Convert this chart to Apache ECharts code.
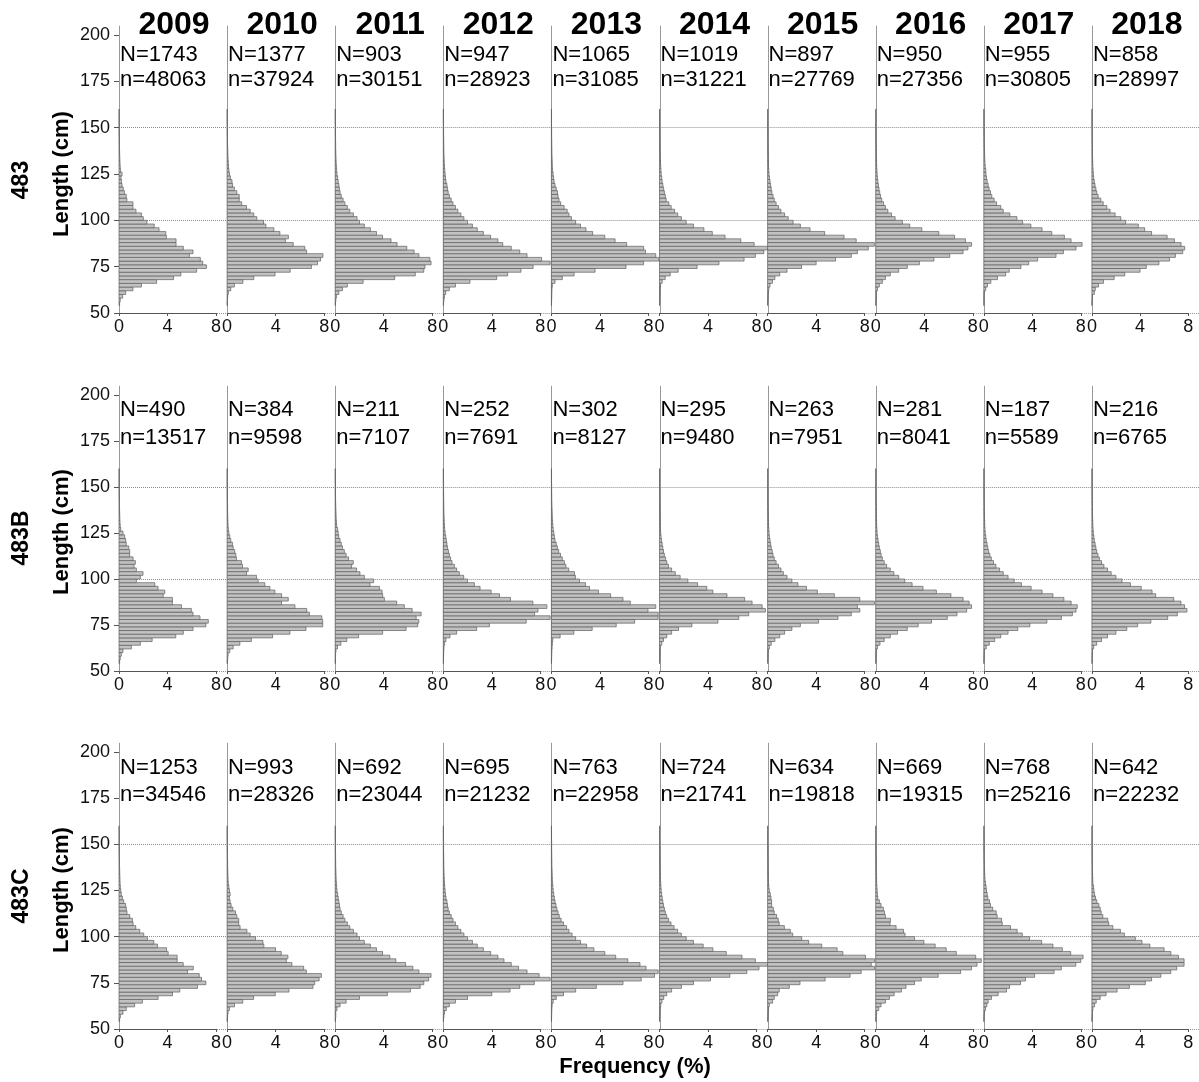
<!DOCTYPE html>
<html>
<head>
<meta charset="utf-8">
<title>ECharts</title>
<style>html, body { margin: 0; padding: 0; background: #fff; }</style>
</head>
<body>
<div id="main" style="width: 1199px; height: 1082px"></div>
<script src="https://cdn.jsdelivr.net/npm/echarts@6.0.0/dist/echarts.min.js"></script>
<script>
var years = ['2009', '2010', '2011', '2012', '2013', '2014', '2015', '2016', '2017', '2018'];
var areas = ['483', '483B', '483C'];
var yTicks = [50, 75, 100, 125, 150, 175, 200];
var xTicks = [0, 4, 8];
// lower edge of each 2 cm length class
var lengthBins = [54, 56, 58, 60, 62, 64, 66, 68, 70, 72, 74, 76, 78, 80, 82, 84, 86, 88, 90, 92,
    94, 96, 98, 100, 102, 104, 106, 108, 110, 112, 114, 116, 118, 120, 122, 124, 126, 128, 130, 132,
    134, 136, 138, 140, 142, 144, 146, 148, 150, 152, 154, 156, 158];

var N483 = [1743, 1377, 903, 947, 1065, 1019, 897, 950, 955, 858];
var n483 = [48063, 37924, 30151, 28923, 31085, 31221, 27769, 27356, 30805, 28997];
var N483B = [490, 384, 211, 252, 302, 295, 263, 281, 187, 216];
var n483B = [13517, 9598, 7107, 7691, 8127, 9480, 7951, 8041, 5589, 6765];
var N483C = [1253, 993, 692, 695, 763, 724, 634, 669, 768, 642];
var n483C = [34546, 28326, 23044, 21232, 22958, 21741, 19818, 19315, 25216, 22232];

// frequency (%) per length class, area 483
var f483_2009 = [0.05,0.1,0.3,0.55,1.15,1.85,3.1,4.5,5.1,6.4, 7.2,6.9,6.7,5.8,6.1,5.3,4.7,4.7,3.9,3.85, 3.3,2.9,2.3,2.0,1.85,1.4,1.15,1.15,0.65,0.6, 0.45,0.35,0.25,0.2,0.17,0.25,0.12,0.1,0.08,0.07, 0.06,0.05,0.04,0.04,0.03,0.03,0.02,0.02,0.02,0.01, 0.01,0.01,0.01];
var f483_2010 = [0.02,0.03,0.05,0.1,0.3,0.6,1.3,2.2,3.95,5.2, 6.95,7.45,7.7,7.9,6.55,6.4,5.45,4.8,5.05,4.35, 3.85,3.2,3.0,2.45,2.2,1.9,1.6,1.2,1.0,1.0, 0.8,0.6,0.45,0.4,0.27,0.2,0.15,0.12,0.1,0.08, 0.07,0.06,0.05,0.04,0.03,0.03,0.02,0.02,0.02,0.01, 0.01,0.01,0.01];
var f483_2011 = [0.02,0.05,0.1,0.3,0.6,1.0,2.3,4.9,6.6,7.3, 7.4,7.9,7.8,6.9,6.5,5.9,5.1,4.6,3.9,3.4, 2.9,2.4,2.0,1.8,1.5,1.2,1.0,0.8,0.65,0.5, 0.4,0.35,0.3,0.25,0.2,0.15,0.12,0.1,0.08,0.07, 0.06,0.05,0.04,0.04,0.03,0.03,0.02,0.02,0.02,0.01, 0.01,0.01,0.01];
var f483_2012 = [0.02,0.05,0.1,0.2,0.5,1.0,2.2,4.4,5.3,6.4, 7.4,8.8,8.1,6.9,6.3,5.6,4.9,4.5,3.9,3.3, 2.8,2.4,2.0,1.7,1.45,1.2,1.0,0.8,0.65,0.5, 0.4,0.35,0.3,0.22,0.18,0.15,0.12,0.1,0.08,0.07, 0.06,0.05,0.04,0.04,0.03,0.03,0.02,0.02,0.02,0.01, 0.01,0.01,0.01];
var f483_2013 = [0.01,0.02,0.03,0.04,0.05,0.08,0.3,0.9,1.87,3.6, 6.15,7.6,8.85,8.6,7.75,7.6,6.2,5.25,4.4,3.4, 2.85,2.4,2.0,1.65,1.45,1.3,1.05,0.77,0.63,0.55, 0.5,0.4,0.3,0.22,0.18,0.14,0.1,0.08,0.07,0.06, 0.05,0.04,0.04,0.03,0.03,0.02,0.02,0.02,0.01,0.01, 0.01,0.01,0.01];
var f483_2014 = [0.01,0.02,0.03,0.04,0.05,0.08,0.22,0.47,0.88,1.54, 3.1,4.9,6.97,7.9,8.6,8.9,7.8,6.7,5.4,4.35, 3.66,2.8,2.2,1.8,1.5,1.24,0.96,0.77,0.55,0.48, 0.4,0.34,0.28,0.22,0.18,0.14,0.12,0.1,0.08,0.07, 0.06,0.05,0.04,0.04,0.03,0.03,0.02,0.02,0.02,0.01, 0.01,0.01,0.01];
var f483_2015 = [0.01,0.02,0.04,0.06,0.1,0.2,0.4,0.6,1.0,1.6, 2.8,4.0,5.6,6.9,7.4,8.3,8.8,7.3,6.3,4.7, 3.5,2.7,2.1,1.7,1.4,1.1,0.9,0.7,0.55,0.45, 0.35,0.3,0.25,0.2,0.15,0.12,0.1,0.08,0.07,0.06, 0.05,0.04,0.04,0.03,0.03,0.02,0.02,0.02,0.01,0.01, 0.01,0.01,0.01];
var f483_2016 = [0.01,0.03,0.05,0.05,0.15,0.3,0.55,0.8,1.2,1.9, 2.6,3.6,4.8,6.1,7.2,7.6,7.9,7.4,6.5,5.2, 3.8,2.8,2.2,1.6,1.3,1.0,0.8,0.65,0.5,0.4, 0.33,0.27,0.22,0.18,0.14,0.12,0.1,0.08,0.07,0.06, 0.05,0.04,0.04,0.03,0.03,0.02,0.02,0.02,0.01,0.01, 0.01,0.01,0.01];
var f483_2017 = [0.01,0.01,0.02,0.03,0.16,0.3,0.58,1.13,1.8,2.1, 3.06,3.7,4.43,5.95,6.56,7.6,8.1,7.19,6.64,5.6, 4.8,3.88,3.2,2.73,2.15,1.6,1.4,1.05,0.85,0.66, 0.55,0.44,0.36,0.28,0.22,0.18,0.16,0.12,0.1,0.08, 0.07,0.06,0.05,0.04,0.03,0.03,0.02,0.02,0.02,0.01, 0.01,0.01,0.01];
var f483_2018 = [0.01,0.02,0.05,0.2,0.28,0.55,0.96,1.85,2.73,4.0, 4.52,5.57,6.45,6.94,7.55,7.71,7.41,6.86,6.25,4.96, 4.38,3.86,2.8,2.4,1.93,1.51,1.24,0.94,0.74,0.52, 0.4,0.33,0.26,0.2,0.15,0.12,0.1,0.08,0.07,0.06, 0.05,0.04,0.04,0.03,0.03,0.02,0.02,0.02,0.01,0.01, 0.01,0.01,0.01];

// area 483B
var f483B_2009 = [0.05,0.1,0.19,0.33,1.02,1.76,2.73,4.68,5.3,6.1, 7.16,7.36,6.67,6.1,5.96,5.15,4.4,4.4,3.64,3.77, 3.22,2.95,1.43,1.76,1.98,1.43,1.24,1.35,1.16,0.88, 0.88,0.8,0.6,0.55,0.47,0.33,0.14,0.1,0.08,0.07, 0.06,0.05,0.04,0.04,0.03,0.03,0.02,0.02,0.02,0.01, 0.01,0.01,0.01];
var f483B_2010 = [0.02,0.05,0.08,0.22,0.5,1.05,2.0,3.75,5.18,6.5, 7.88,7.88,7.8,6.78,6.56,5.59,4.49,5.04,4.49,3.94, 3.53,3.11,2.56,2.42,1.6,1.74,1.27,1.18,0.77,0.72, 0.63,0.5,0.44,0.3,0.22,0.15,0.1,0.08,0.07,0.06, 0.05,0.04,0.04,0.03,0.03,0.02,0.02,0.02,0.01,0.01, 0.01,0.01,0.01];
var f483B_2011 = [0.01,0.02,0.03,0.06,0.19,0.47,0.96,1.93,3.91,5.84, 6.8,6.89,6.67,7.08,6.34,5.7,5.07,4.05,3.91,3.86, 3.64,2.87,3.17,2.4,2.04,1.76,1.35,1.49,1.1,0.9, 0.75,0.6,0.5,0.4,0.3,0.25,0.2,0.12,0.1,0.08, 0.07,0.06,0.05,0.04,0.03,0.03,0.02,0.02,0.02,0.01, 0.01,0.01,0.01];
var f483B_2012 = [0.01,0.02,0.03,0.04,0.06,0.11,0.22,0.55,1.1,2.75, 3.8,6.83,8.8,7.52,7.8,8.54,7.38,5.54,4.63,3.94, 3.03,2.56,2.0,1.68,1.32,1.1,0.91,0.72,0.6,0.5, 0.42,0.35,0.3,0.25,0.2,0.15,0.12,0.1,0.08,0.07, 0.06,0.05,0.04,0.04,0.03,0.03,0.02,0.02,0.02,0.01, 0.01,0.01,0.01];
var f483B_2013 = [0.01,0.02,0.03,0.04,0.06,0.08,0.11,0.72,1.85,3.36, 5.34,6.86,8.8,8.8,7.96,8.6,6.5,5.9,4.88,3.88, 3.14,2.81,2.31,1.98,1.9,1.43,1.2,1.07,0.9,0.75, 0.6,0.5,0.4,0.3,0.25,0.2,0.15,0.12,0.1,0.08, 0.07,0.06,0.05,0.04,0.03,0.03,0.02,0.02,0.02,0.01, 0.01,0.01,0.01];
var f483B_2014 = [0.01,0.02,0.03,0.04,0.05,0.19,0.33,0.6,1.0,1.57, 2.67,4.82,6.53,7.35,8.73,8.46,7.63,7.02,5.56,4.4, 3.9,3.14,2.34,1.7,1.3,1.0,0.74,0.6,0.5,0.4, 0.33,0.27,0.22,0.17,0.13,0.1,0.08,0.07,0.06,0.05, 0.05,0.04,0.04,0.03,0.03,0.02,0.02,0.02,0.01,0.01, 0.01,0.01,0.01];
var f483B_2015 = [0.01,0.02,0.03,0.05,0.15,0.3,0.6,1.0,1.4,2.0, 2.7,4.2,5.8,6.9,7.6,7.4,8.8,7.6,5.5,4.1, 3.2,2.5,2.0,1.6,1.3,1.1,0.9,0.7,0.55,0.45, 0.38,0.3,0.25,0.2,0.15,0.12,0.1,0.08,0.07,0.06, 0.05,0.04,0.04,0.03,0.03,0.02,0.02,0.02,0.01,0.01, 0.01,0.01,0.01];
var f483B_2016 = [0.01,0.02,0.03,0.05,0.15,0.35,0.7,1.2,1.8,2.6, 3.5,4.6,5.9,6.7,7.5,7.9,7.7,7.2,6.2,5.0, 3.9,3.0,2.4,1.9,1.5,1.2,0.9,0.7,0.55,0.45, 0.38,0.3,0.25,0.2,0.15,0.12,0.1,0.08,0.07,0.06, 0.05,0.04,0.04,0.03,0.03,0.02,0.02,0.02,0.01,0.01, 0.01,0.01,0.01];
var f483B_2017 = [0.01,0.02,0.03,0.05,0.2,0.45,0.9,1.4,2.0,2.8, 3.8,5.2,6.4,7.3,7.6,7.7,7.2,6.6,5.7,4.8, 3.9,3.1,2.5,2.0,1.6,1.3,1.0,0.8,0.62,0.5, 0.4,0.33,0.27,0.2,0.16,0.12,0.1,0.08,0.07,0.06, 0.05,0.04,0.04,0.03,0.03,0.02,0.02,0.02,0.01,0.01, 0.01,0.01,0.01];
var f483B_2018 = [0.01,0.02,0.03,0.05,0.15,0.4,0.8,1.3,2.0,2.9, 3.8,4.9,6.3,7.1,7.9,7.7,7.4,6.8,5.3,5.0, 4.1,3.2,2.5,2.0,1.6,1.3,1.0,0.8,0.62,0.5, 0.4,0.33,0.27,0.2,0.16,0.12,0.1,0.08,0.07,0.06, 0.05,0.04,0.04,0.03,0.03,0.02,0.02,0.02,0.01,0.01, 0.01,0.01,0.01];

// area 483C
var f483C_2009 = [0.05,0.11,0.33,0.6,1.29,1.93,3.22,4.41,5.01,6.47, 7.16,6.8,6.61,5.65,6.12,5.29,4.79,4.79,4.05,3.91, 3.17,2.87,2.34,2.04,1.71,1.38,1.16,1.1,0.88,0.66, 0.6,0.55,0.39,0.28,0.19,0.15,0.11,0.09,0.08,0.07, 0.06,0.05,0.04,0.04,0.03,0.03,0.02,0.02,0.02,0.01, 0.01,0.01,0.01];
var f483C_2010 = [0.02,0.04,0.08,0.19,0.61,1.29,2.18,3.97,5.1,7.08, 7.22,7.58,7.77,6.53,6.31,5.34,4.88,5.01,4.46,3.99, 3.03,2.95,2.34,1.9,1.63,1.07,0.96,0.96,0.8,0.69, 0.47,0.33,0.25,0.19,0.25,0.19,0.14,0.1,0.08,0.07, 0.06,0.05,0.04,0.04,0.03,0.03,0.02,0.02,0.02,0.01, 0.01,0.01,0.01];
var f483C_2011 = [0.02,0.05,0.05,0.15,0.4,0.9,2.0,4.3,6.2,7.0, 7.3,7.7,7.9,6.9,6.4,5.8,5.0,4.5,3.9,3.4, 2.9,2.4,2.0,1.8,1.5,1.2,1.0,0.8,0.65,0.5, 0.4,0.35,0.3,0.25,0.2,0.15,0.12,0.1,0.08,0.07, 0.06,0.05,0.04,0.04,0.03,0.03,0.02,0.02,0.02,0.01, 0.01,0.01,0.01];
var f483C_2012 = [0.02,0.05,0.1,0.25,0.5,1.0,2.0,4.0,5.5,6.3, 7.5,8.8,7.9,6.9,6.2,5.6,5.0,4.5,3.9,3.3, 2.8,2.4,2.0,1.7,1.45,1.2,1.0,0.8,0.65,0.5, 0.4,0.35,0.3,0.22,0.18,0.15,0.12,0.1,0.08,0.07, 0.06,0.05,0.04,0.04,0.03,0.03,0.02,0.02,0.02,0.01, 0.01,0.01,0.01];
var f483C_2013 = [0.01,0.02,0.03,0.04,0.06,0.15,0.4,1.0,2.0,3.7, 5.9,7.4,8.5,8.8,7.8,7.3,6.3,5.3,4.4,3.5, 2.9,2.4,2.0,1.7,1.45,1.25,1.0,0.8,0.65,0.55, 0.45,0.38,0.3,0.24,0.19,0.15,0.12,0.1,0.08,0.07, 0.06,0.05,0.04,0.04,0.03,0.03,0.02,0.02,0.02,0.01, 0.01,0.01,0.01];
var f483C_2014 = [0.01,0.02,0.03,0.05,0.1,0.2,0.35,0.6,1.0,1.8, 2.8,4.2,5.8,7.2,8.2,8.9,7.9,6.8,5.5,4.4, 3.6,2.8,2.2,1.8,1.5,1.2,0.95,0.75,0.6,0.48, 0.4,0.33,0.27,0.22,0.18,0.14,0.12,0.1,0.08,0.07, 0.06,0.05,0.04,0.04,0.03,0.03,0.02,0.02,0.02,0.01, 0.01,0.01,0.01];
var f483C_2015 = [0.02,0.04,0.06,0.08,0.14,0.41,0.55,0.83,0.96,1.79, 2.67,4.74,6.8,7.71,8.82,8.54,8.82,8.07,6.2,5.73, 4.46,3.39,2.81,2.07,1.87,1.38,0.96,0.88,0.74,0.55, 0.47,0.33,0.33,0.28,0.22,0.14,0.1,0.08,0.07,0.06, 0.05,0.04,0.04,0.03,0.03,0.02,0.02,0.02,0.01,0.01, 0.01,0.01,0.01];
var f483C_2016 = [0.02,0.04,0.08,0.25,0.44,0.8,1.13,1.52,2.12,2.5, 3.2,3.75,5.15,7.0,7.9,8.35,8.7,8.24,6.64,5.81, 4.9,3.97,3.2,2.42,2.29,1.68,1.18,1.21,0.8,0.72, 0.63,0.44,0.3,0.17,0.14,0.12,0.1,0.08,0.07,0.06, 0.05,0.04,0.04,0.03,0.03,0.02,0.02,0.02,0.01,0.01, 0.01,0.01,0.01];
var f483C_2017 = [0.01,0.02,0.05,0.14,0.25,0.36,0.63,1.18,1.87,2.12, 3.03,3.44,4.19,5.79,6.39,7.58,7.99,8.18,7.16,6.47, 5.7,4.77,3.77,3.17,2.75,2.2,1.52,1.46,1.1,1.02, 0.74,0.55,0.47,0.33,0.28,0.22,0.19,0.14,0.1,0.08, 0.07,0.06,0.05,0.04,0.03,0.03,0.02,0.02,0.02,0.01, 0.01,0.01,0.01];
var f483C_2018 = [0.01,0.02,0.04,0.08,0.22,0.36,0.69,1.18,2.09,3.11, 4.44,4.96,5.73,6.56,7.05,7.66,7.66,7.19,6.56,6.0, 4.82,4.16,3.61,2.7,2.37,1.74,1.4,1.32,0.91,0.77, 0.69,0.58,0.41,0.3,0.22,0.17,0.14,0.08,0.07,0.06, 0.05,0.04,0.04,0.03,0.03,0.02,0.02,0.02,0.01,0.01, 0.01,0.01,0.01];

var freq = [
    [f483_2009, f483_2010, f483_2011, f483_2012, f483_2013, f483_2014, f483_2015, f483_2016, f483_2017, f483_2018],
    [f483B_2009, f483B_2010, f483B_2011, f483B_2012, f483B_2013, f483B_2014, f483B_2015, f483B_2016, f483B_2017, f483B_2018],
    [f483C_2009, f483C_2010, f483C_2011, f483C_2012, f483C_2013, f483C_2014, f483C_2015, f483C_2016, f483C_2017, f483C_2018]
];
var bigN = [N483, N483B, N483C];
var smallN = [n483, n483B, n483C];

var font = '"Liberation Sans", Arial, sans-serif';
var yMin = 50, yMax = 205;
var gridTop = [25.7, 385.8, 742.8];
var gridHeight = [287.3, 285.2, 286.2];
var nTextY = [55, 410, 768];
var smallTextY = [80, 438, 795];
var colLeft = 119, colStep = 108.1, colWidth = 108;
var clear = 'rgba(0,0,0,0)';
// dotted guide lines only at 50, 100 and 150 cm
var guideColors = ['#8c8c8c', clear, '#8c8c8c', clear, '#8c8c8c', clear, clear, clear];

var myChart = echarts.init(document.getElementById('main'));

function renderBar(params, api) {
    var lo = api.value(1);
    var p0 = api.coord([0, lo + 2]);
    var p1 = api.coord([api.value(0), lo]);
    var bar = {
        type: 'rect',
        shape: { x: p0[0], y: p0[1], width: p1[0] - p0[0], height: p1[1] - p0[1] },
        style: { fill: '#c2c2c2', stroke: '#5e5e5e', lineWidth: 0.7 },
        z2: 1
    };
    if (params.dataIndex !== 0) {
        return bar;
    }
    // panel frame: light length axis, solid frequency axis from first to last tick
    var o = api.coord([xTicks[0], yMin]);
    var top = api.coord([xTicks[0], yMax]);
    var end = api.coord([xTicks[xTicks.length - 1], yMin]);
    var x = Math.round(o[0]) + 0.5;
    var y = Math.round(o[1]) + 0.5;
    return {
        type: 'group',
        children: [{
            type: 'line',
            shape: { x1: x, y1: top[1], x2: x, y2: y },
            style: { stroke: '#999999', lineWidth: 1 },
            z2: 0
        }, bar, {
            type: 'line',
            shape: { x1: o[0], y1: y, x2: end[0], y2: y },
            style: { stroke: '#555', lineWidth: 1 },
            z2: 2
        }]
    };
}

var grids = [], xAxes = [], yAxes = [], series = [], texts = [];

for (var r = 0; r < areas.length; r++) {
    for (var c = 0; c < years.length; c++) {
        var k = grids.length;
        var left = colLeft + c * colStep;
        grids.push({ left: left, top: gridTop[r], width: colWidth, height: gridHeight[r] });
        xAxes.push({
            gridIndex: k, type: 'value', min: 0, max: 8.9,
            axisLine: { show: false },
            axisTick: { show: true, customValues: xTicks, length: 3, lineStyle: { color: '#555' } },
            axisLabel: { customValues: xTicks, fontSize: 18, color: '#111', margin: 5, fontFamily: font },
            splitLine: { show: false }
        });
        yAxes.push({
            gridIndex: k, type: 'value', min: yMin, max: yMax,
            axisLine: { show: false },
            axisTick: { show: c === 0, customValues: yTicks, length: 5, lineStyle: { color: '#555' } },
            axisLabel: { show: c === 0, customValues: yTicks, fontSize: 18, color: '#111', margin: 9, fontFamily: font },
            splitLine: { show: true, lineStyle: { type: 'dotted', color: guideColors, width: 1 } }
        });
        var vals = freq[r][c];
        var data = [];
        for (var i = 0; i < vals.length; i++) {
            data.push([vals[i], lengthBins[i]]);
        }
        series.push({
            type: 'custom', xAxisIndex: k, yAxisIndex: k, clip: false,
            renderItem: renderBar, encode: { x: 0, y: 1 }, data: data
        });
        texts.push({
            type: 'text', x: left + 1, y: nTextY[r],
            style: { text: 'N=' + bigN[r][c], fontSize: 22, fontFamily: font, fill: '#000', align: 'left', verticalAlign: 'middle' }
        });
        texts.push({
            type: 'text', x: left + 1, y: smallTextY[r],
            style: { text: 'n=' + smallN[r][c], fontSize: 22, fontFamily: font, fill: '#000', align: 'left', verticalAlign: 'middle' }
        });
    }
    var mid = gridTop[r] + gridHeight[r] - 139;
    texts.push({
        type: 'text', x: 22, y: mid + 6, rotation: Math.PI / 2,
        style: { text: areas[r], fontSize: 23, fontWeight: 'bold', fontFamily: font, fill: '#000', align: 'center', verticalAlign: 'middle' }
    });
    texts.push({
        type: 'text', x: 62, y: mid, rotation: Math.PI / 2,
        style: { text: 'Length (cm)', fontSize: 22, fontWeight: 'bold', fontFamily: font, fill: '#000', align: 'center', verticalAlign: 'middle' }
    });
}

for (var c = 0; c < years.length; c++) {
    texts.push({
        type: 'text', x: colLeft + c * colStep + 55, y: 25,
        style: { text: years[c], fontSize: 32, fontWeight: 'bold', fontFamily: font, fill: '#000', align: 'center', verticalAlign: 'middle' }
    });
}
texts.push({
    type: 'text', x: 635, y: 1067,
    style: { text: 'Frequency (%)', fontSize: 22, fontWeight: 'bold', fontFamily: font, fill: '#000', align: 'center', verticalAlign: 'middle' }
});

myChart.setOption({
    animation: false,
    backgroundColor: '#fff',
    grid: grids,
    xAxis: xAxes,
    yAxis: yAxes,
    series: series,
    graphic: texts
});
</script>
</body>
</html>
